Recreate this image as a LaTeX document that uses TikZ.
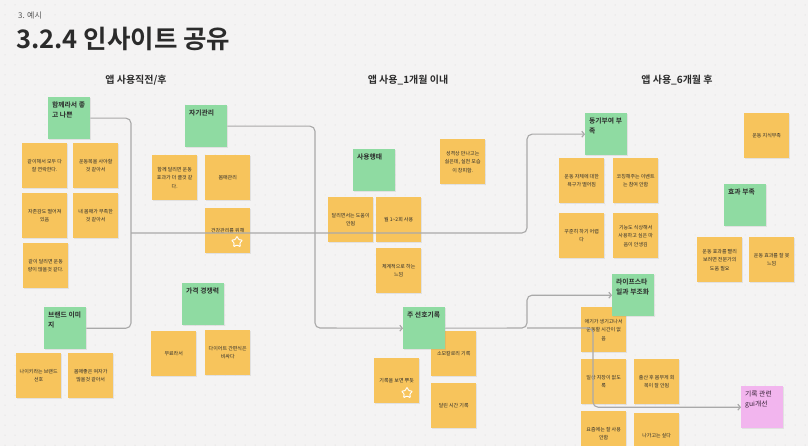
\documentclass[tikz,border=0pt]{standalone}
\usepackage{fontspec}
\setmainfont{Noto Sans CJK KR}[BoldFont={Noto Sans CJK KR Bold}]
\usetikzlibrary{arrows.meta,shapes.geometric,shadows}
\definecolor{boardBg}{HTML}{F4F3F3}
\definecolor{boardDot}{HTML}{D2D2D2}
\definecolor{noteYellow}{HTML}{F7C45C}
\definecolor{noteGreen}{HTML}{8FDBA2}
\definecolor{notePink}{HTML}{F2B5EE}
\definecolor{lineGray}{HTML}{A9A9A9}
\definecolor{textDark}{HTML}{2B2B2B}

\begin{document}
\begin{tikzpicture}
[x=1pt,y=-1pt,
  noteDecorate/.style={anchor=north west,fill=noteYellow,minimum width=45pt,minimum height=45pt,
    inner sep=1pt,align=center,text=textDark,font=\fontsize{5}{8.5}\selectfont,
    drop shadow={shadow xshift=0.3pt,shadow yshift=-0.8pt,opacity=0.15}},
  headDecorate/.style={anchor=north west,fill=noteGreen,minimum width=42pt,minimum height=42pt,
    inner sep=0pt,drop shadow={shadow xshift=0.3pt,shadow yshift=-0.8pt,opacity=0.15}},
  headText/.style={anchor=north west,inner sep=0pt,align=left,text=textDark,
    font=\fontsize{6.8}{10.5}\selectfont\bfseries},
  titleDecorate/.style={text=textDark,font=\fontsize{10}{12}\selectfont\bfseries},
  lineDecorate/.style={draw=lineGray,line width=1.1pt,rounded corners=5pt},
  arrowDecorate/.style={lineDecorate,-{Straight Barb[length=2.5pt,width=6pt]}},
  starDecorate/.style={star,star points=5,star point ratio=2.1,draw=white,line width=0.9pt,
    minimum size=12pt,inner sep=0pt,rounded corners=1pt}]
\useasboundingbox (0,0) rectangle (808,446);
%% board
\fill[boardBg] (0,0) rectangle (808,446);
\foreach \gx in {5,15,...,805}
  \foreach \gy in {5,15,...,445}
    \fill[boardDot] (\gx,\gy) circle (0.5pt);
%% titles
\node (chapter) [anchor=west,inner sep=0pt,text=textDark!80,font=\fontsize{8}{9}\selectfont] at (18,16) {3. 예시};
\node (title) [anchor=west,inner sep=0pt,text=textDark,font=\fontsize{25.5}{27}\selectfont\bfseries] at (16,39) {3.2.4 인사이트 공유};
\node (phaseA) [titleDecorate] at (136,80) {앱 사용직전/후};
\node (phaseB) [titleDecorate] at (408,80) {앱 사용\_1개월 이내};
\node (phaseC) [titleDecorate] at (677,80) {앱 사용\_6개월 후};
%% yellow notes
\foreach \nodename/\x/\y/\memo in {
  a1/22/143/{같이해서 모두 다\\잘 연락한다.}, a2/73/143/{운동복을 사야할\\것 같아서},
  a3/22/193/{자존감도 떨어져\\있음}, a4/73/193/{내 몸매가 부족한\\것 같아서},
  a5/23/243/{같이 달리면 운동\\량이 많을것 같다.},
  a6/16/353/{나이키라는 브랜드\\선호}, a7/68/353/{몸매좋은 여자가\\많을것 같아서},
  a8/152/155/{함께 달리면 운동\\효과가 더 클것 같\\다.}, a9/205/155/{몸매관리},
  a10/205/208/{건강관리를 위해},
  a11/151/331/{무료라서}, a12/205/330/{다이어트 간편식은\\비싸다},
  b1/440/139/{성격상 만나고는\\싫은데, 실천 모습\\이 창피함.},
  b2/328/197/{달리면서는 도움이\\안됨}, b3/376/197/{월 1\textasciitilde 2회 사용},
  b4/376/248/{체계적으로 하는\\느낌},
  b5/431/331/{소모칼로리 기록}, b6/374/358/{기록을 보면 뿌듯},
  b7/431/383/{달린 시간 기록},
  c1/559/158/{운동 자체에 대한\\욕구가 떨어짐}, c2/613/158/{코칭해주는 이벤트\\는 참여 안함},
  c3/559/213/{꾸준히 하기 어렵\\다}, c4/613/213/{기능도 식상해서\\사용하고 싶은 마\\음이 안생김},
  c5/744/113/{운동 지식부족},
  c6/697/237/{운동 효과를 빨리\\보려면 전문가의\\도움 필요}, c7/749/237/{운동 효과를 잘 못\\느낌},
  c8/581/307/{애기가 생기고나서\\운동할 시간이 없\\음},
  c9/581/359/{일상 지장이 없도\\록}, c10/634/359/{출산 후 몸무게 회\\복이 잘 안됨},
  c11/581/411/{요즘에는 잘 사용\\안함}, c12/634/413/{나가고는 싶다}}
{
  \node (\nodename) at (\x,\y) [noteDecorate] {\memo};
}
\node (star1) at (237,242) [starDecorate] {};
\node (star2) at (407,393) [starDecorate] {};
%% green notes
\foreach \nodename/\x/\y/\memo in {
  hamkke/48/97/{함께라서 좋\\고 나쁜}, brand/44/307/{브랜드 이미\\지},
  self/185/105/{자기관리}, price/182/283/{가격 경쟁력},
  usage/353/149/{사용행태}, record/403/307/{주 선호기록},
  motive/585/113/{동기부여 부\\족}, effect/724/184/{효과 부족},
  lifestyle/612/274/{라이프스타\\일과 부조화}}
{
  \node (\nodename) at (\x,\y) [headDecorate] {};
  \node (\nodename-t) at ([xshift=4pt,yshift=-4.5pt]\nodename.north west) [headText] {\memo};
}
\node (gui) at (741,386) [headDecorate,fill=notePink] {};
\node (gui-t) at ([xshift=4pt,yshift=-4.5pt]gui.north west) [headText,font=\fontsize{6.8}{10.5}\selectfont,text=textDark!85!violet] {기록 관련\\gui개선};
%% connectors
\coordinate (bracket) at (131,233);
\coordinate (turnA) at (527,233);
\coordinate (turnB) at (315,328);
\coordinate (turnC) at (527,328);
\coordinate (turnD) at (593,328);
\draw[lineDecorate] (hamkke.east) -| (bracket) |- (brand.east);
\draw[arrowDecorate] (bracket) -- (turnA) |- (motive.west);
\draw[arrowDecorate] (self.east) -| (turnB) -- (record.west);
\draw[arrowDecorate] (record.east) -- (turnC) |- (lifestyle.west);
\draw[arrowDecorate] (turnC) -- (turnD) |- (gui.west);
\end{tikzpicture}
\end{document}
